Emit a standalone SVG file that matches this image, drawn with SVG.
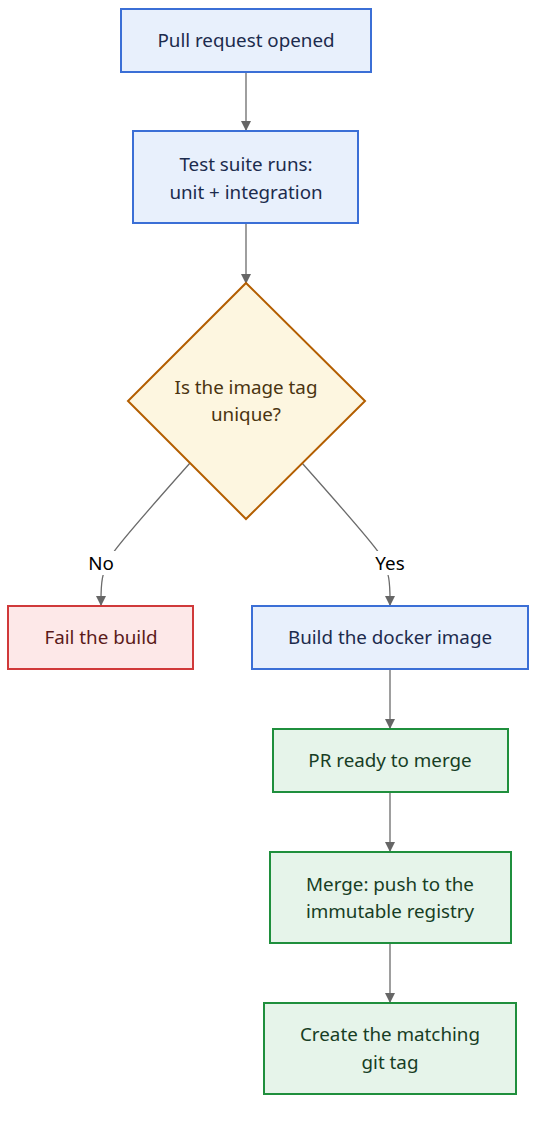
<svg xmlns="http://www.w3.org/2000/svg" width="548" height="1123" viewBox="0 0 548 1123">
<style>
text{font-family:"Noto Sans","Open Sans","DejaVu Sans",sans-serif;font-size:18.8px;text-anchor:middle}
.blue rect{fill:#e8f0fc;stroke:#3b6fd6;stroke-width:2}
.blue text{fill:#1c2b4d}
.green rect{fill:#e6f4ea;stroke:#1f8f3d;stroke-width:2}
.green text{fill:#173d24}
.red rect{fill:#fde8e8;stroke:#d0393a;stroke-width:2}
.red text{fill:#5a1a1a}
.dec polygon{fill:#fdf6e0;stroke:#b35e00;stroke-width:2}
.dec text{fill:#4a3410}
.edge{fill:none;stroke:#6b6b6b;stroke-width:1.3}
.lbl{fill:#000}
</style>
<defs>
<marker id="arr" viewBox="0 0 10 10" refX="10" refY="5" markerWidth="10" markerHeight="10" markerUnits="userSpaceOnUse" orient="auto">
<path d="M0,0 L10,5 L0,10 z" fill="#666"/>
</marker>
</defs>
<g id="connectors">
<path class="edge" d="M246,72 L246,131" marker-end="url(#arr)"/>
<path class="edge" d="M246,223 L246,284" marker-end="url(#arr)"/>
<path class="edge" d="M190,463 C150,508 122,540 113,553 C100,572 101,588 101,606" marker-end="url(#arr)"/>
<path class="edge" d="M302,463 C342,508 370,540 379,553 C391,572 390,588 390,606" marker-end="url(#arr)"/>
<path class="edge" d="M390,669 L390,729" marker-end="url(#arr)"/>
<path class="edge" d="M390,792 L390,852" marker-end="url(#arr)"/>
<path class="edge" d="M390,943 L390,1003" marker-end="url(#arr)"/>
<rect x="86" y="551" width="30" height="24" fill="#fff"/>
<text class="lbl" x="101" y="570">No</text>
<rect x="373" y="551" width="36" height="24" fill="#fff"/>
<text class="lbl" x="390" y="570">Yes</text>
</g>
<g id="n1" class="blue"><rect x="121" y="9" width="250" height="63"/><text x="246" y="47">Pull request opened</text></g>
<g id="n2" class="blue"><rect x="133" y="131" width="225" height="92"/><text x="246" y="171">Test suite runs:</text><text x="246" y="199">unit + integration</text></g>
<g id="n3" class="dec"><polygon points="246,283 365,401 246,519 128,401"/><text x="246" y="394">Is the image tag</text><text x="246" y="421">unique?</text></g>
<g id="n4" class="red"><rect x="8" y="606" width="185" height="63"/><text x="101" y="644">Fail the build</text></g>
<g id="n5" class="blue"><rect x="252" y="606" width="276" height="63"/><text x="390" y="644">Build the docker image</text></g>
<g id="n6" class="green"><rect x="273" y="729" width="235" height="63"/><text x="390" y="767">PR ready to merge</text></g>
<g id="n7" class="green"><rect x="270" y="852" width="241" height="91"/><text x="390" y="891">Merge: push to the</text><text x="390" y="918">immutable registry</text></g>
<g id="n8" class="green"><rect x="264" y="1003" width="252" height="91"/><text x="390" y="1041">Create the matching</text><text x="390" y="1069">git tag</text></g>
</svg>
